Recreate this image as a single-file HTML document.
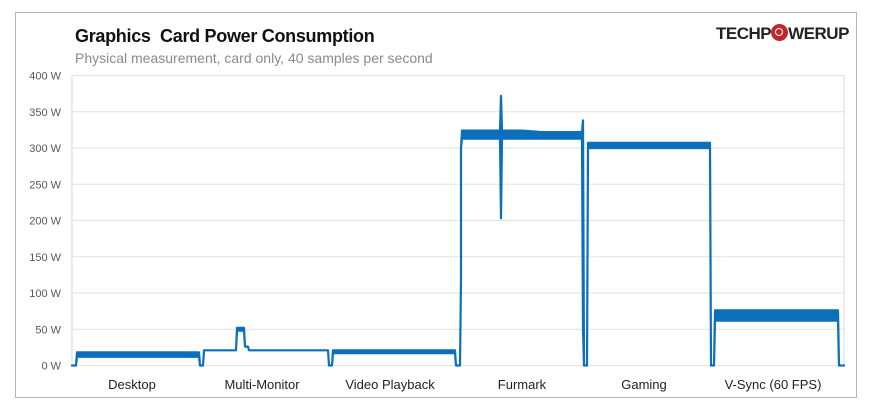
<!DOCTYPE html>
<html><head><meta charset="utf-8"><style>
body{margin:0;background:#fff;width:880px;height:419px;overflow:hidden;font-family:"Liberation Sans",sans-serif}
#frame{position:absolute;left:15px;top:12px;width:842px;height:386px;border:1px solid #b4b4b4;box-sizing:border-box}
.t{position:absolute;white-space:nowrap}
</style></head><body>
<div id="frame"></div>
<div class="t" style="left:75px;top:26px;font-size:18px;font-weight:bold;color:#111;letter-spacing:-0.3px">Graphics&nbsp; Card Power Consumption</div>
<div class="t" style="left:75px;top:50px;font-size:14px;color:#8a8a8a">Physical measurement, card only, 40 samples per second</div>
<div class="t" style="left:716px;top:24px;font-size:17px;font-weight:bold;color:#222;letter-spacing:-0.5px">TECHP<span style="display:inline-block;width:17px;height:17px;border-radius:50%;background:#c0282d;vertical-align:-2px;position:relative"><span style="position:absolute;left:4px;top:4px;width:6px;height:6px;border:1.5px solid #fff;border-radius:50%"></span></span>WERUP</div>
<svg id="chart" width="880" height="419" style="position:absolute;left:0;top:0"></svg>
<script>
const yTicks=[0,50,100,150,200,250,300,350,400];
const categories=["Desktop","Multi-Monitor","Video Playback","Furmark","Gaming","V-Sync (60 FPS)"];
const categoryCenters=[60,190,318,450,572,701];
const times=[0,4,5,20,35,50,65,80,95,110,127,128,131,132,164,165,172,173,176,177,256,257,260,261,280,300,320,340,360,383,384,388,389,389,390,410,428,429,430,431,450,470,490,510,511,512,515,516,530,550,570,590,610,638,639,642,643,660,680,700,720,740,766,767,772];
const lows=[0,0,12,12,12,12,12,12,12,12,12,0,0,21,21,48,48,26,26,21,21,0,0,17,17,17,17,17,17,17,0,0,120,300,313,313,313,203,313,313,313,313,313,313,50,0,0,300,300,300,300,300,300,300,0,0,62,62,62,62,62,62,62,0,0];
const highs=[0,0,18,18,18,18,18,18,18,18,18,0,0,21,21,52,52,26,26,21,21,0,0,21,21,21,21,21,21,21,0,0,120,300,324,324,324,372,324,324,324,322,322,322,338,0,0,307,307,307,307,307,307,307,0,0,76,76,76,76,76,76,76,0,0];
const svg=document.getElementById('chart');
const NS='http://www.w3.org/2000/svg';
const X0=72,X1=844,Y0=365.5,Y1=75.5;
const xs=t=>X0+t*(X1-X0)/772;
const ys=v=>Y0-v*(Y0-Y1)/400;
function mk(tag,attrs){const e=document.createElementNS(NS,tag);for(const k in attrs)e.setAttribute(k,attrs[k]);svg.appendChild(e);return e;}
const bg=mk('rect',{x:X0,y:Y1,width:X1-X0,height:Y0-Y1,fill:'#fff',stroke:'#d9d9d9'});


yTicks.forEach(v=>{
  const l=mk('line',{x1:X0,x2:X1,y1:ys(v),y2:ys(v),stroke:'#e2e2e2','stroke-width':1});
  
  
  const tx=mk('text',{x:61,y:ys(v)+4,'text-anchor':'end','font-size':11,fill:'#595959','font-family':'Liberation Sans, sans-serif'});
  tx.textContent=v+' W';
  
  
});
categories.forEach((c,i)=>{
  const tx=mk('text',{x:xs(categoryCenters[i]),y:389,'text-anchor':'middle','font-size':13,fill:'#222','font-family':'Liberation Sans, sans-serif'});
  tx.textContent=c;
  
  
});
let pts=[];
for(let i=0;i<times.length;i++)pts.push(xs(times[i]).toFixed(1)+','+ys(highs[i]).toFixed(1));
for(let i=times.length-1;i>=0;i--)pts.push(xs(times[i]).toFixed(1)+','+ys(lows[i]).toFixed(1));
const band=mk('polygon',{points:pts.join(' '),fill:'#0b6fbb',stroke:'#0b6fbb','stroke-width':2.2,'stroke-linejoin':'round'});


</script>
</body></html>
